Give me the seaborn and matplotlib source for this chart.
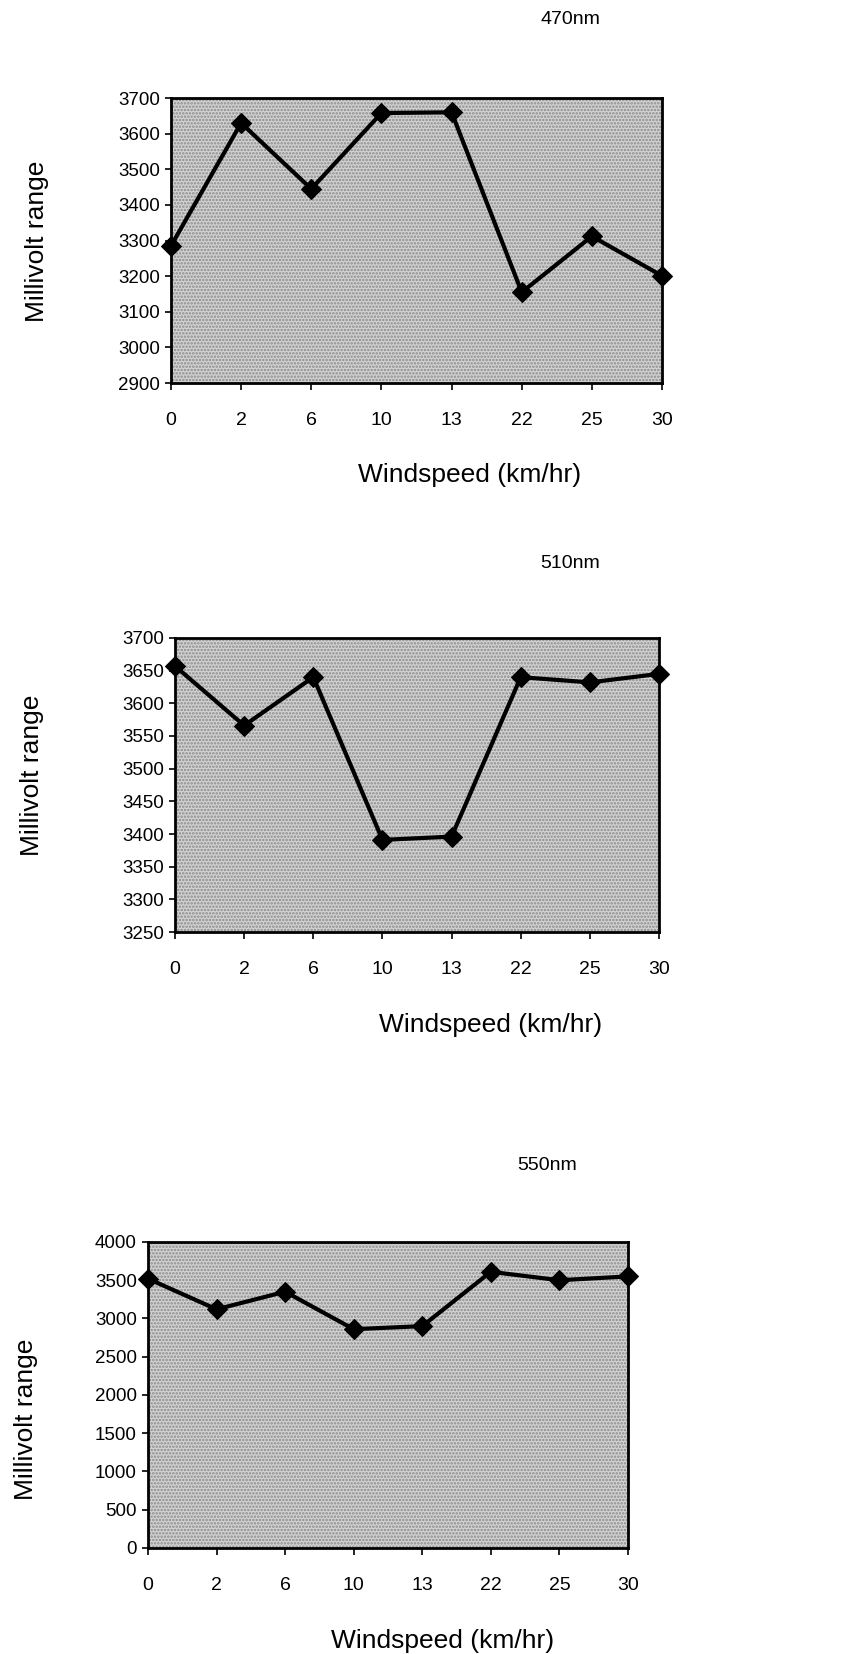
import numpy as np
import pandas as pd
import matplotlib
matplotlib.use("Agg")
import matplotlib.pyplot as plt
from matplotlib.patches import Rectangle
import seaborn as sns

windspeed = ["0", "2", "6", "10", "13", "22", "25", "30"]
mv_470 = [3285, 3630, 3445, 3658, 3660, 3155, 3312, 3201]
mv_510 = [3657, 3566, 3640, 3391, 3396, 3640, 3632, 3645]
mv_550 = [3520, 3120, 3350, 2860, 2900, 3610, 3500, 3550]
titles = ["470nm", "510nm", "550nm"]
yticks_470 = list(range(2900, 3701, 100))
yticks_510 = list(range(3250, 3701, 50))
yticks_550 = list(range(0, 4001, 500))

sns.set_style("white")
plt.rcParams['font.family'] = ['Liberation Sans', 'DejaVu Sans']
plt.rcParams['hatch.color'] = '#7a7a7a'
plt.rcParams['hatch.linewidth'] = 1.2
plt.rcParams['text.color'] = 'black'
plt.rcParams['xtick.color'] = 'black'
plt.rcParams['ytick.color'] = 'black'

fig = plt.figure(figsize=(8.6, 16.54), dpi=100)

panels = [
    dict(rect=[0.1988, 0.7684, 0.571, 0.1723], vals=mv_470, yt=yticks_470, title=titles[0],
         title_xy=(570, 19), xl_xy=(470, 475), yl_xy=(37, 241)),
    dict(rect=[0.2035, 0.4365, 0.5628, 0.1778], vals=mv_510, yt=yticks_510, title=titles[1],
         title_xy=(570, 564), xl_xy=(491, 1025), yl_xy=(32, 775)),
    dict(rect=[0.1721, 0.0641, 0.5581, 0.1850], vals=mv_550, yt=yticks_550, title=titles[2],
         title_xy=(547, 1166), xl_xy=(443, 1641), yl_xy=(26, 1419)),
]

W, H = 860, 1654
for p in panels:
    ax = fig.add_axes(p["rect"])
    df = pd.DataFrame({"pos": np.arange(len(windspeed)), "mv": p["vals"]})
    ax.set_facecolor('#d2d2d2')
    ax.add_patch(Rectangle((0, 0), 1, 1, transform=ax.transAxes, facecolor='none',
                           edgecolor='#8a8a8a', hatch='.....', linewidth=0, zorder=0))
    sns.lineplot(data=df, x="pos", y="mv", ax=ax, color='black', linewidth=3.0,
                 marker='D', markersize=10, markeredgecolor='black', clip_on=False, zorder=5)
    ax.set_xlim(0, len(windspeed) - 1)
    ax.set_ylim(p["yt"][0], p["yt"][-1])
    ax.set_yticks(p["yt"])
    ax.set_yticklabels([str(v) for v in p["yt"]], fontsize=13.5)
    ax.set_xticks(np.arange(len(windspeed)))
    ax.set_xticklabels(windspeed, fontsize=14)
    ax.tick_params(axis='y', direction='out', length=4, width=1.2, pad=4, left=True)
    ax.tick_params(axis='x', direction='out', length=5, width=1.2, pad=16, bottom=True)
    for s in ax.spines.values():
        s.set_visible(True)
        s.set_color('black')
        s.set_linewidth(2.0)
    ax.set_xlabel("")
    ax.set_ylabel("")
    fig.text(p["title_xy"][0] / W, 1 - p["title_xy"][1] / H, p["title"], ha='center', va='center',
             fontsize=14)
    fig.text(p["xl_xy"][0] / W, 1 - p["xl_xy"][1] / H, "Windspeed (km/hr)", ha='center', va='center',
             fontsize=19)
    fig.text(p["yl_xy"][0] / W, 1 - p["yl_xy"][1] / H, "Millivolt range", ha='center', va='center',
             fontsize=19, rotation=90)

fig.savefig("out.png", dpi=100, facecolor='white')
